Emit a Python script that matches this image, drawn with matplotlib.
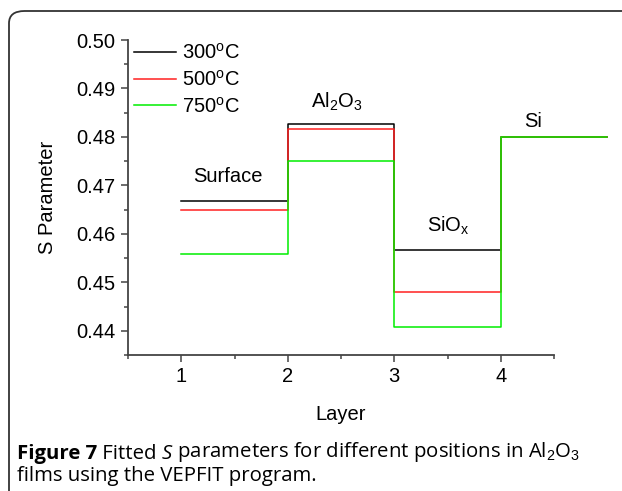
import matplotlib
matplotlib.use("Agg")
import matplotlib.pyplot as plt
from matplotlib.patches import FancyBboxPatch
from matplotlib.ticker import MultipleLocator, FormatStrFormatter

plt.rcParams["font.family"] = ["Liberation Sans", "DejaVu Sans"]
plt.rcParams["mathtext.fontset"] = "custom"
plt.rcParams["mathtext.rm"] = "Liberation Sans"
plt.rcParams["mathtext.it"] = "Liberation Sans:italic"

# layer boundaries (step edges) and fitted S values per layer
layer_edges = [1, 2, 3, 4, 5]
layer_names = ["Surface", r"Al$_2$O$_3$", r"SiO$_{\rm x}$", "Si"]
temps = ["300$^{\\rm o}$C", "500$^{\\rm o}$C", "750$^{\\rm o}$C"]
s_300 = [0.4668, 0.4826, 0.4567, 0.4800]
s_500 = [0.4650, 0.4816, 0.4481, 0.4800]
s_750 = [0.4558, 0.4751, 0.4408, 0.4800]
colors = ["black", "#ff2020", "#00ee00"]

FS = 14.5

fig = plt.figure(figsize=(6.22, 4.91), dpi=100)

# rounded frame around the figure + caption
frame = FancyBboxPatch((9 / 622, -0.2), 1.2, (491 - 11) / 491 + 0.2,
                       boxstyle="round,pad=0,rounding_size=0.025",
                       transform=fig.transFigure, fill=False,
                       ec="#333333", lw=1.3)
fig.patches.append(frame)

ax = fig.add_axes([128 / 622, 1 - 355 / 491, (554 - 128) / 622, (355 - 40) / 491])

for vals, c, lab in zip([s_300, s_500, s_750], colors, temps):
    ax.step(layer_edges, vals + [vals[-1]], where="post", color=c, lw=1.1,
            label=lab, clip_on=False)

ax.set_xlim(0.5, 4.5)
ax.set_ylim(0.435, 0.50)
ax.xaxis.set_major_locator(MultipleLocator(1))
ax.xaxis.set_minor_locator(MultipleLocator(0.5))
ax.yaxis.set_major_locator(MultipleLocator(0.01))
ax.yaxis.set_minor_locator(MultipleLocator(0.005))
ax.yaxis.set_major_formatter(FormatStrFormatter("%.2f"))
ax.spines["top"].set_visible(False)
ax.spines["right"].set_visible(False)
for sp in ["left", "bottom"]:
    ax.spines[sp].set_color("#444444")
    ax.spines[sp].set_linewidth(1.3)
ax.tick_params(which="major", length=5, width=1.1, color="#444444",
               labelsize=FS, pad=4)
ax.tick_params(which="minor", length=3, width=1.1, color="#444444")
ax.set_xlabel("Layer", fontsize=FS, labelpad=13)
ax.set_ylabel("S Parameter", fontsize=FS, labelpad=14)

leg = ax.legend(loc="upper left", bbox_to_anchor=(-0.02, 1.035), frameon=False,
                fontsize=FS, handlelength=2.1, handletextpad=0.3,
                labelspacing=0.33, borderaxespad=0.3)

label_pos = [(1.44, 0.4707), (2.46, 0.4860), (3.51, 0.4604), (4.30, 0.4821)]
for name, (x, y) in zip(layer_names, label_pos):
    ax.text(x, y, name, fontsize=FS, ha="center", va="baseline")

# caption, built piece by piece
cap_font = ["Open Sans", "DejaVu Sans"]
cap_size = 14.7
pieces = [(" Fitted ", "normal", "normal"),
          ("S", "normal", "italic"),
          (" parameters for different positions in Al$_2$O$_3$", "normal", "normal")]
anchor = fig.text(17 / 622, 1 - 459 / 491, "Figure 7", fontsize=cap_size,
                  family=cap_font, weight="bold", va="baseline")
for txt, w, st in pieces:
    anchor = plt.annotate(txt, xy=(1, 0), xycoords=anchor, xytext=(0, 0),
                          textcoords="offset points", fontsize=cap_size,
                          family=cap_font, weight=w, style=st,
                          va="bottom", ha="left", annotation_clip=False)
fig.text(17 / 622, 1 - 481 / 491, "films using the VEPFIT program.",
         fontsize=cap_size, family=cap_font, va="baseline")

fig.savefig("out.png", dpi=100)
